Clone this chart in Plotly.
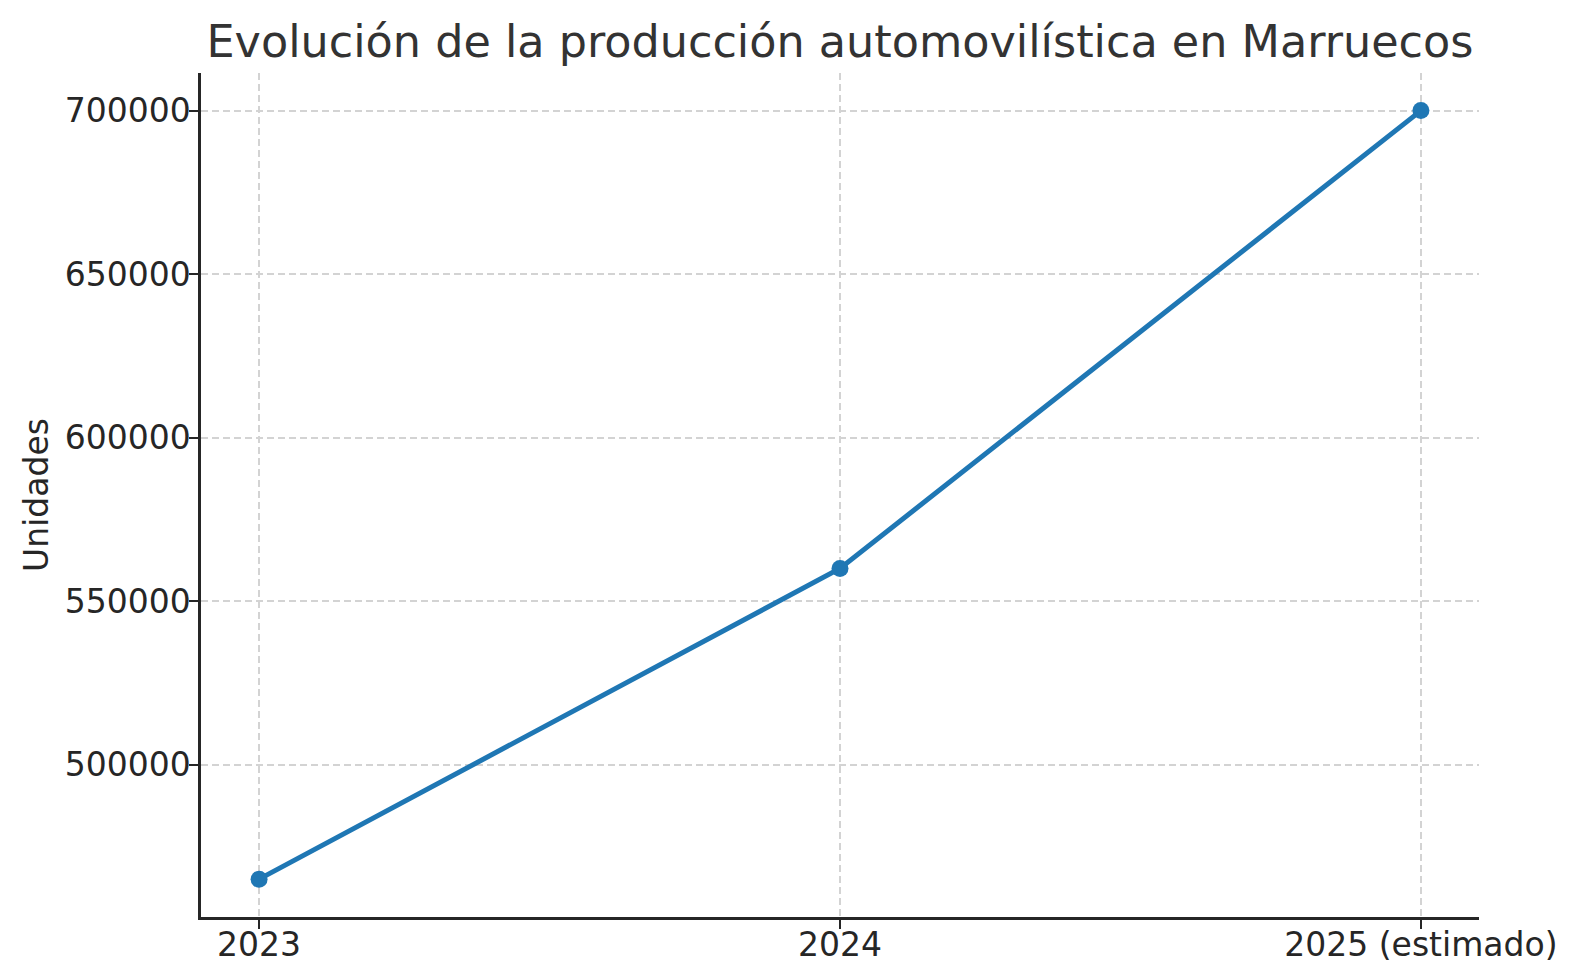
import plotly.graph_objects as go

# datos
anios = ["2023", "2024", "2025 (estimado)"]
unidades = [465000, 560000, 700000]
ticks_y = [500000, 550000, 600000, 650000, 700000]

azul = "#1f77b4"
gris_grid = "#d3d3d3"
negro = "#262626"

fig = go.Figure()
fig.add_trace(go.Scatter(
    x=anios, y=unidades, mode="lines+markers",
    line=dict(color=azul, width=5),
    marker=dict(color=azul, size=17),
    showlegend=False,
))

fig.update_layout(
    width=1578, height=980,
    margin=dict(l=201, r=99, t=73, b=63, autoexpand=False),
    paper_bgcolor="white", plot_bgcolor="white",
    font=dict(family="DejaVu Sans", color=negro),
    title=dict(
        text="Evolución de la producción automovilística en Marruecos",
        x=0.5, xref="paper", xanchor="center",
        y=1 - 41 / 980, yref="container", yanchor="middle",
        font=dict(size=44.5, color="#333333"),
    ),
)

fig.update_xaxes(
    type="category", range=[-0.1, 2.1], automargin=False,
    showline=True, linecolor=negro, linewidth=2.5,
    ticks="outside", ticklen=9, tickwidth=2.2, tickcolor=negro,
    tickfont=dict(size=33, color=negro), ticklabelstandoff=-12,
    showgrid=True, gridcolor=gris_grid, gridwidth=1.7, griddash="7px,4px",
    zeroline=False,
)
fig.update_yaxes(
    range=[453425, 711500], automargin=False,
    tickvals=ticks_y, ticktext=[str(v) for v in ticks_y],
    showline=True, linecolor=negro, linewidth=2.5,
    ticks="outside", ticklen=9, tickwidth=2.2, tickcolor=negro,
    tickfont=dict(size=33, color=negro), ticklabelstandoff=-8,
    showgrid=True, gridcolor=gris_grid, gridwidth=1.7, griddash="7px,4px",
    zeroline=False,
    title=dict(text="Unidades", font=dict(size=33, color=negro), standoff=7),
)

# sin margen del body para que la figura empiece en (0, 0)
fig.write_html("out.html", config={"displayModeBar": False},
               post_script="document.body.style.margin='0';")
